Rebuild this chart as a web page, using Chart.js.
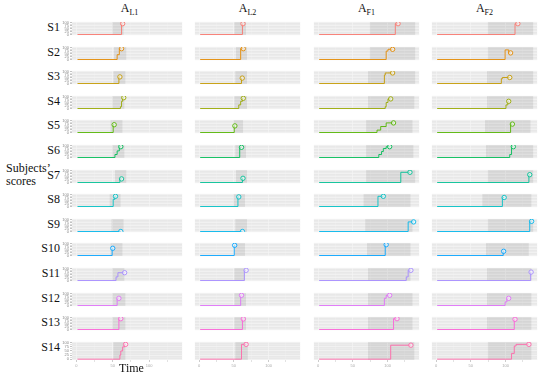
<!DOCTYPE html>
<html>
<head>
<meta charset="utf-8">
<script src="https://cdn.jsdelivr.net/npm/chart.js@4.4.0/dist/chart.umd.min.js"></script>
<style>
  body { margin: 0; background: #fff; width: 550px; height: 378px; position: relative; overflow: hidden; font-family: "Liberation Serif", "DejaVu Serif", serif; color: #111; }
  canvas { position: absolute; }
  .lab { position: absolute; white-space: nowrap; }
  .subj { width: 60px; text-align: right; font-size: 12px; }
  .head { width: 115px; text-align: center; font-size: 12px; top: 2px; }
  .head sub { font-size: 8px; }
</style>
</head>
<body>
<script>
// facets
const subjects = ["S1", "S2", "S3", "S4", "S5", "S6", "S7", "S8", "S9", "S10", "S11", "S12", "S13", "S14"];
const activities = ["L1", "L2", "F1", "F2"];
const colours = ["#F8766D", "#E38900", "#C49A00", "#99A800", "#53B400", "#00BC56", "#00C094",
                 "#00BFC4", "#00B6EB", "#06A4FF", "#A58AFF", "#DF70F8", "#FB61D7", "#FF66A8"];

// y ticks / x ticks
const yTicks = [0, 25, 50, 75, 100];
const xTicks = [4, 37, 70];
const xTickLabels = ["0", "50", "100"];

// A_L1
const shadeL1 = [[36.5,47],[38,49.5],[37.5,48.7],[36.5,47.8],[34.8,46],[36.5,47.8],[39,49.5],
                 [34,44.3],[35.7,47],[34.8,46],[36.5,47.8],[36.5,48.7],[36.5,48.7],[37.4,48.7]];
const timesL1 = [[5,45,46],[5,41,43,45],[5,42.6,43.5],[5,44,45,46,47],[5,37.4,38.3],[5,39,41,43,44.3],[5,43.5,45],
                 [5,37.4,39,39.5],[5,44.3],[5,36.5,37],[5,40,41.7,47.8],[5,41,42.6],[5,42.6,44.3],[5,43.5,44.3,46,47.8,48.7]];
const scoresL1 = [[0,90,90],[0,40,90,90],[0,55,55],[0,15,60,90,90],[0,65,65],[0,25,55,90,90],[0,30,30],
                  [0,60,85,85],[0,0],[0,60,60],[0,30,65,65],[0,60,60],[0,90,90],[0,25,50,75,90,90]];

// A_L2
const shadeL2 = [[37.4,48.7],[39,49.6],[38.3,49.6],[37.4,49.6],[36.5,46],[38.3,48.7],[39,49.6],
                 [36.5,47.8],[38.3,49.6],[37.4,47.8],[37.4,47.8],[37.4,48.7],[37.4,48.7],[38.3,50.4]];
const timesL2 = [[5,45.2,45.7],[5,43.5,46],[5,44.3,45],[5,41.7,43.5,45.2,46],[5,37.4,38],[5,42.6,44.3],[5,45.2,45.7],
                 [5,40.9,41.7],[5,45.2],[5,37.4,37.8],[5,47,48.7],[5,43.5,44.3],[5,45.2,46],[5,44.3,48.7]];
const scoresL2 = [[0,90,90],[0,90,90],[0,45,45],[0,30,60,85,85],[0,55,55],[0,85,85],[0,35,35],
                  [0,80,80],[0,0],[0,85,85],[0,85,85],[0,85,85],[0,88,88],[0,90,90]];

// A_F1
const shadeF1 = [[53,96.5],[53,96.5],[51.3,96.5],[51.3,95.7],[49.6,93.9],[49.6,94.8],[49.6,96.5],
                 [47,92],[48.7,93.9],[50.4,92],[51.3,92],[51.3,93.9],[51.3,93.9],[51.3,95.7]];
const timesF1 = [[5,77.4,80],[5,68.7,70.4,74.8],[5,67,67.8,74.8],[5,67.8,68.7,70.4,73],[5,60,63.5,68.7,75.7],[5,61.7,64.3,66,68.7,72],[5,82.6,91.3],
                 [5,60.9,66],[5,89.6,94.8],[5,67.8,68.7],[5,87.8,89.6,92.2],[5,67,68.7,72],[5,75.7,79],[5,73,92.2]];
const scoresF1 = [[0,90,90],[0,70,85,85],[0,70,88,88],[0,15,50,80,80],[0,20,50,80,80],[0,25,50,75,90,90],[0,85,85],
                  [0,85,85],[0,80,80],[0,90,90],[0,30,85,85],[0,60,85,85],[0,90,90],[0,85,85]];

// A_F2
const shadeF2 = [[53,96.5],[53,96.5],[52.2,96.5],[52.2,96.5],[50.4,93.9],[51.3,96.5],[53,96.5],
                 [47.8,94.8],[53,96.5],[51.3,92.2],[52.2,94.8],[52.2,94.8],[52.2,94.8],[53,94.8]];
const timesF2 = [[5,79,81.7],[5,69.6,73,74.8],[5,66,67,74],[5,70.4,72.2,73],[5,74.8,76.5],[5,74,75.7,77.4],[5,92.2,93],
                 [5,67,68.7],[5,93,94.8],[5,67.8,68.2],[5,93.9,94.3],[5,69.6,71.3,73],[5,78.3,79],[5,75.7,78.3,80,92.2]];
const scoresF2 = [[0,90,90],[0,80,55,55],[0,40,50,50],[0,30,60,60],[0,70,70],[0,25,90,90],[0,65,65],
                  [0,75,75],[0,85,85],[0,35,35],[0,70,70],[0,30,60,60],[0,85,85],[0,35,80,90,90]];

const shades = [shadeL1, shadeL2, shadeF1, shadeF2];
const times = [timesL1, timesL2, timesF1, timesF2];
const scores = [scoresL1, scoresL2, scoresF1, scoresF2];

// layout
const panelLeft = [72, 190, 309, 427];
const panelW = 115, panelH = 23;
const rowTop0 = 17, rowPitch = 24.6;
const axisW = 14, axisH = 8;
const yMin = -5, yMax = 105;

// grey panel background, like ggplot's theme_grey
const panelBg = {
  id: 'panelBg',
  beforeDraw(chart) {
    const { ctx, chartArea: a } = chart;
    ctx.save();
    ctx.fillStyle = '#E8E8E8';
    ctx.fillRect(a.left, a.top, a.right - a.left, a.bottom - a.top);
    ctx.restore();
  }
};

function addLabel(html, cls, left, top, extra) {
  const d = document.createElement('div');
  d.className = 'lab ' + cls;
  d.innerHTML = html;
  d.style.left = left + 'px';
  d.style.top = top + 'px';
  if (extra) Object.assign(d.style, extra);
  document.body.appendChild(d);
}

activities.forEach((a, c) => {
  addLabel('A<sub>' + a + '</sub>', 'head', panelLeft[c], 1);
});

subjects.forEach((s, r) => {
  const top = Math.round(rowTop0 + r * rowPitch);
  addLabel(s, 'subj', 0, top + 3);

  for (let c = 0; c < 4; c++) {
    const showY = c === 0, showX = r === subjects.length - 1;
    const w = panelW + (showY ? axisW : 0), h = panelH + (showX ? axisH : 0);
    const cv = document.createElement('canvas');
    cv.width = w; cv.height = h;
    cv.style.left = (panelLeft[c] - (showY ? axisW : 0)) + 'px';
    cv.style.top = top + 'px';
    document.body.appendChild(cv);

    const sh = shades[c][r];
    const t = times[c][r], sc = scores[c][r];
    const pts = t.map((x, i) => ({ x: x, y: sc[i] }));
    const col = colours[r];

    new Chart(cv, {
      type: 'line',
      data: {
        datasets: [
          {
            data: [{ x: sh[0], y: yMax }, { x: sh[1], y: yMax }],
            fill: 'start',
            backgroundColor: 'rgba(0,0,0,0.08)',
            borderWidth: 0,
            pointRadius: 0,
            order: 2
          },
          {
            data: pts,
            stepped: 'before',
            borderColor: col,
            borderWidth: 0.9,
            fill: false,
            pointRadius: ctx => ctx.dataIndex === pts.length - 1 ? 2.2 : 0,
            pointBorderColor: col,
            pointBackgroundColor: 'rgba(255,255,255,0.5)',
            pointBorderWidth: 0.9,
            order: 1
          }
        ]
      },
      options: {
        animation: false,
        responsive: false,
        devicePixelRatio: 1,
        layout: { padding: 0 },
        plugins: { legend: { display: false }, tooltip: { enabled: false } },
        scales: {
          x: {
            type: 'linear', min: 0, max: 100,
            afterBuildTicks: s => {
              const tk = [];
              xTicks.forEach(v => { tk.push({ value: v }); tk.push({ value: v + 16.5 }); });
              s.ticks = tk;
            },
            afterFit: s => { s.height = showX ? axisH : 0; },
            grid: {
              color: ctx => (ctx.tick && xTicks.includes(ctx.tick.value)) ? '#F7F7F7' : '#F0F0F0',
              lineWidth: ctx => (ctx.tick && xTicks.includes(ctx.tick.value)) ? 0.6 : 0.35,
              drawTicks: showX, tickLength: 2, tickColor: '#aaa'
            },
            border: { display: false },
            ticks: {
              display: showX, font: { size: 4 }, color: '#aaa', padding: 1, maxRotation: 0, autoSkip: false,
              callback: v => { const i = xTicks.indexOf(v); return i >= 0 ? xTickLabels[i] : ''; }
            }
          },
          y: {
            type: 'linear', min: yMin, max: yMax,
            afterBuildTicks: s => {
              const tk = [];
              yTicks.forEach((v, i) => { tk.push({ value: v }); if (i < yTicks.length - 1) tk.push({ value: v + 12.5 }); });
              s.ticks = tk;
            },
            afterFit: s => { s.width = showY ? axisW : 0; },
            grid: {
              color: ctx => (ctx.tick && yTicks.includes(ctx.tick.value)) ? '#F7F7F7' : '#F0F0F0',
              lineWidth: ctx => (ctx.tick && yTicks.includes(ctx.tick.value)) ? 0.6 : 0.35,
              drawTicks: showY, tickLength: 2, tickColor: '#999'
            },
            border: { display: false },
            ticks: {
              display: showY, font: { size: 4 }, color: '#888', padding: 1, autoSkip: false,
              callback: v => yTicks.includes(v) ? String(v) : ''
            }
          }
        }
      },
      plugins: [panelBg]
    });
  }
});

addLabel('Subjects’', '', 6, 161, { fontSize: '12px' });
addLabel('scores', '', 6, 174, { fontSize: '12px' });
addLabel('Time', '', 119, 361, { fontSize: '12px' });
</script>
</body>
</html>
